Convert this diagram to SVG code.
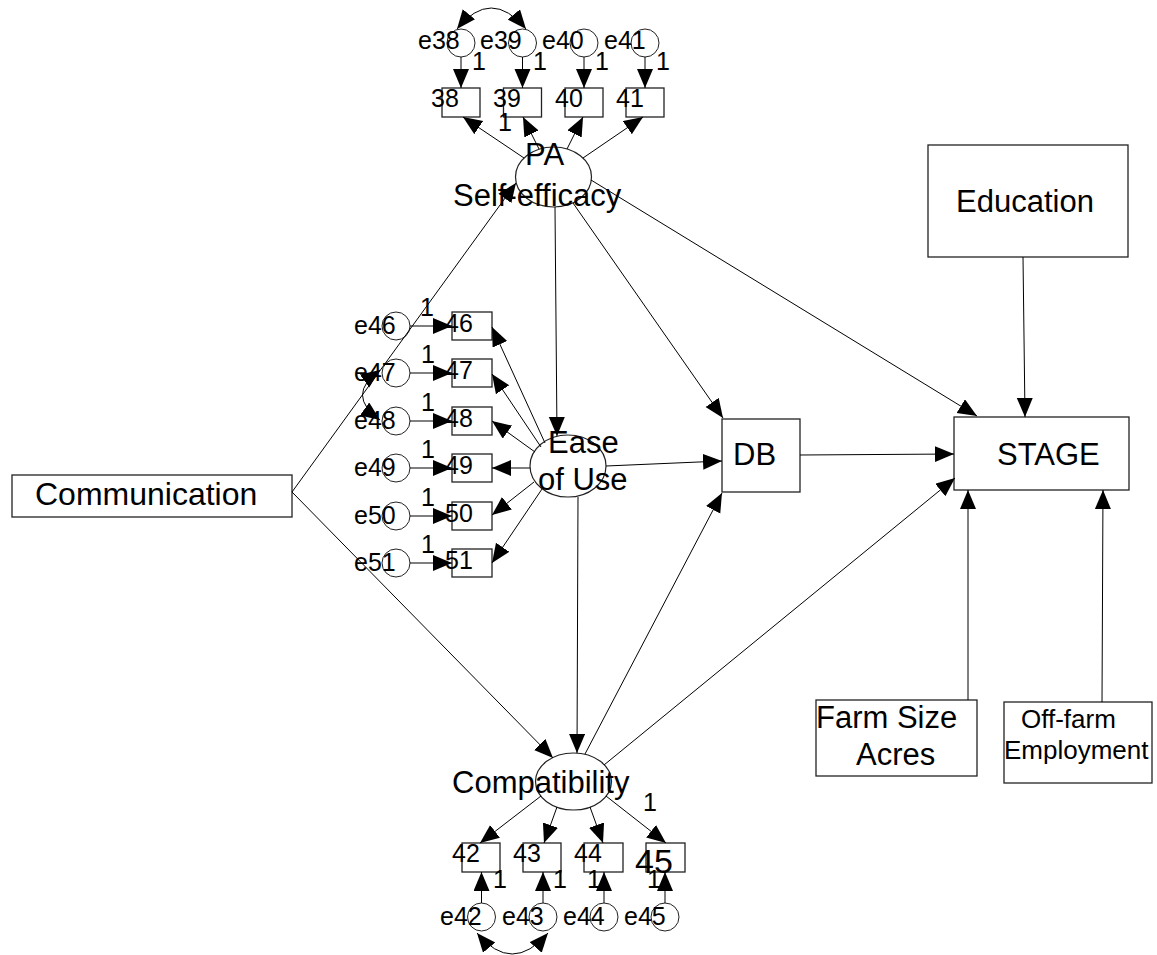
<svg xmlns="http://www.w3.org/2000/svg" width="1157" height="955" viewBox="0 0 1157 955">
  <style>
    .box { fill: none; stroke: #222; stroke-width: 1.3; }
    .lat { fill: none; stroke: #222; stroke-width: 1.2; }
    .err { fill: none; stroke: #222; stroke-width: 1; }
    .big { font-family: "Liberation Sans", Arial, sans-serif; font-size: 31px; fill: #000; }
    .mid { font-family: "Liberation Sans", Arial, sans-serif; font-size: 26px; fill: #000; }
    .sm { font-family: "Liberation Sans", Arial, sans-serif; font-size: 25px; fill: #000; }
    .edge { fill: none; stroke: #000; stroke-width: 1; marker-end: url(#arrow); }
    .cov { fill: none; stroke: #000; stroke-width: 1; marker-start: url(#arrow); marker-end: url(#arrow); }
  </style>
  <defs>
    <marker id="arrow" markerUnits="userSpaceOnUse" markerWidth="20" markerHeight="17" refX="19" refY="8" orient="auto-start-reverse">
      <path d="M0,0 L19,8 L0,16 z" fill="#000"/>
    </marker>
  </defs>
  <rect width="1157" height="955" fill="#fff"/>

  <!-- observed exogenous variables -->
  <g id="communication">
    <rect class="box" x="12" y="475" width="280" height="42"/>
    <text class="big" x="35" y="505" style="font-size:32px">Communication</text>
  </g>
  <g id="education">
    <rect class="box" x="928" y="145" width="200" height="112"/>
    <text class="big" x="956" y="212">Education</text>
  </g>
  <g id="farm-size">
    <rect class="box" x="816" y="700" width="161" height="76"/>
    <text class="big" x="816" y="728">Farm Size</text>
    <text class="big" x="856" y="765">Acres</text>
  </g>
  <g id="off-farm">
    <rect class="box" x="1004" y="702" width="148" height="81"/>
    <text class="mid" x="1021" y="728">Off-farm</text>
    <text class="mid" x="1004" y="759">Employment</text>
  </g>
  <g id="db">
    <rect class="box" x="722" y="419" width="78" height="73"/>
    <text class="big" x="733" y="465">DB</text>
  </g>
  <g id="stage">
    <rect class="box" x="954" y="417" width="175" height="73"/>
    <text class="big" x="997" y="465">STAGE</text>
  </g>

  <!-- latent constructs -->
  <g id="pa-self-efficacy">
    <ellipse class="lat" cx="553.5" cy="177" rx="38" ry="30"/>
    <text class="big" x="525" y="165">PA</text>
    <text class="big" x="453" y="206">Self-efficacy</text>
  </g>
  <g id="ease-of-use">
    <ellipse class="lat" cx="568" cy="466" rx="38" ry="31"/>
    <text class="big" x="548" y="453">Ease</text>
    <text class="big" x="538" y="490">of Use</text>
  </g>
  <g id="compatibility">
    <ellipse class="lat" cx="573.5" cy="781.5" rx="38" ry="28.5"/>
    <text class="big" x="452" y="793">Compatibility</text>
  </g>

  <!-- PA self-efficacy indicators -->
  <g id="item-38"><rect class="box" x="442" y="88" width="38" height="29"/><text class="sm" x="431" y="107">38</text></g>
  <g id="item-39"><rect class="box" x="503.5" y="88" width="38" height="29"/><text class="sm" x="493" y="107">39</text></g>
  <g id="item-40"><rect class="box" x="565" y="88" width="38" height="29"/><text class="sm" x="555" y="107">40</text></g>
  <g id="item-41"><rect class="box" x="626" y="88" width="38" height="29"/><text class="sm" x="616" y="107">41</text></g>
  <g id="e38"><circle class="err" cx="461" cy="43" r="14"/><text class="sm" x="418" y="49">e38</text></g>
  <g id="e39"><circle class="err" cx="522.5" cy="43" r="14"/><text class="sm" x="480" y="49">e39</text></g>
  <g id="e40"><circle class="err" cx="584" cy="43" r="14"/><text class="sm" x="542" y="49">e40</text></g>
  <g id="e41"><circle class="err" cx="645" cy="43" r="14"/><text class="sm" x="604" y="49">e41</text></g>

  <!-- ease of use indicators -->
  <g id="item-46"><rect class="box" x="452" y="312" width="40" height="28"/><text class="sm" x="445" y="332">46</text></g>
  <g id="item-47"><rect class="box" x="452" y="359" width="40" height="28"/><text class="sm" x="445" y="379">47</text></g>
  <g id="item-48"><rect class="box" x="452" y="407" width="40" height="28"/><text class="sm" x="445" y="427">48</text></g>
  <g id="item-49"><rect class="box" x="452" y="454" width="40" height="28"/><text class="sm" x="445" y="474">49</text></g>
  <g id="item-50"><rect class="box" x="452" y="502" width="40" height="28"/><text class="sm" x="445" y="522">50</text></g>
  <g id="item-51"><rect class="box" x="452" y="549" width="40" height="28"/><text class="sm" x="445" y="569">51</text></g>
  <g id="e46"><circle class="err" cx="396" cy="326" r="14"/><text class="sm" x="354" y="334">e46</text></g>
  <g id="e47"><circle class="err" cx="396" cy="373" r="14"/><text class="sm" x="354" y="381">e47</text></g>
  <g id="e48"><circle class="err" cx="396" cy="421" r="14"/><text class="sm" x="354" y="429">e48</text></g>
  <g id="e49"><circle class="err" cx="396" cy="468" r="14"/><text class="sm" x="354" y="476">e49</text></g>
  <g id="e50"><circle class="err" cx="396" cy="516" r="14"/><text class="sm" x="354" y="524">e50</text></g>
  <g id="e51"><circle class="err" cx="396" cy="563" r="14"/><text class="sm" x="354" y="571">e51</text></g>

  <!-- compatibility indicators -->
  <g id="item-42"><rect class="box" x="462" y="843" width="38" height="29"/><text class="sm" x="452" y="862">42</text></g>
  <g id="item-43"><rect class="box" x="523" y="843" width="38" height="29"/><text class="sm" x="513" y="862">43</text></g>
  <g id="item-44"><rect class="box" x="584" y="843" width="39" height="29"/><text class="sm" x="574" y="862">44</text></g>
  <g id="item-45"><rect class="box" x="646" y="843" width="39" height="29"/><text class="big" x="635" y="873" style="font-size:34px">45</text></g>
  <g id="e42"><circle class="err" cx="481.5" cy="917" r="14"/><text class="sm" x="440" y="925">e42</text></g>
  <g id="e43"><circle class="err" cx="543" cy="917" r="14"/><text class="sm" x="502" y="925">e43</text></g>
  <g id="e44"><circle class="err" cx="604" cy="917" r="14"/><text class="sm" x="563" y="925">e44</text></g>
  <g id="e45"><circle class="err" cx="665" cy="917" r="14"/><text class="sm" x="624" y="925">e45</text></g>

  <!-- paths, loadings and covariances -->
  <g id="connectors">
    <!-- structural paths -->
    <line class="edge" x1="292" y1="492" x2="516" y2="183"/>
    <line class="edge" x1="292" y1="492" x2="553" y2="758"/>
    <line class="edge" x1="555" y1="207" x2="557" y2="436"/>
    <line class="edge" x1="573" y1="203" x2="723" y2="418"/>
    <line class="edge" x1="591" y1="180" x2="977" y2="416"/>
    <line class="edge" x1="606" y1="466" x2="722" y2="461"/>
    <line class="edge" x1="578" y1="497" x2="577" y2="753"/>
    <line class="edge" x1="585" y1="754" x2="722" y2="493"/>
    <line class="edge" x1="604" y1="765" x2="955" y2="478"/>
    <line class="edge" x1="800" y1="455" x2="954" y2="454"/>
    <line class="edge" x1="1023" y1="257" x2="1025" y2="417"/>
    <line class="edge" x1="968" y1="700" x2="968" y2="490"/>
    <line class="edge" x1="1102" y1="702" x2="1103" y2="490"/>

    <!-- PA self-efficacy loadings -->
    <line class="edge" x1="524" y1="158" x2="463" y2="117"/>
    <line class="edge" x1="539" y1="149" x2="523" y2="117"/>
    <line class="edge" x1="567" y1="149" x2="583" y2="117"/>
    <line class="edge" x1="583" y1="158" x2="643" y2="117"/>
    <line class="edge" x1="461" y1="57" x2="461" y2="88"/>
    <line class="edge" x1="522.5" y1="57" x2="522.5" y2="88"/>
    <line class="edge" x1="584" y1="57" x2="584" y2="88"/>
    <line class="edge" x1="645" y1="57" x2="645" y2="88"/>
    <path class="cov" d="M457,29 Q491,-13 526,29"/>

    <!-- ease of use loadings -->
    <line class="edge" x1="545" y1="443" x2="492" y2="327"/>
    <line class="edge" x1="541" y1="447" x2="492" y2="374"/>
    <line class="edge" x1="535" y1="452" x2="492" y2="421"/>
    <line class="edge" x1="530" y1="468" x2="492" y2="468"/>
    <line class="edge" x1="534" y1="482" x2="492" y2="515"/>
    <line class="edge" x1="542" y1="489" x2="492" y2="563"/>
    <line class="edge" x1="410" y1="326" x2="452" y2="326"/>
    <line class="edge" x1="410" y1="373" x2="452" y2="373"/>
    <line class="edge" x1="410" y1="421" x2="452" y2="421"/>
    <line class="edge" x1="410" y1="468" x2="452" y2="468"/>
    <line class="edge" x1="410" y1="516" x2="452" y2="516"/>
    <line class="edge" x1="410" y1="563" x2="452" y2="563"/>
    <path class="cov" d="M380,370 Q345,395 380,420"/>

    <!-- compatibility loadings -->
    <line class="edge" x1="541" y1="796" x2="480" y2="843"/>
    <line class="edge" x1="557" y1="807" x2="544" y2="843"/>
    <line class="edge" x1="590" y1="807" x2="603" y2="843"/>
    <line class="edge" x1="606" y1="796" x2="666" y2="843"/>
    <line class="edge" x1="481.5" y1="903" x2="481.5" y2="872"/>
    <line class="edge" x1="543" y1="903" x2="543" y2="872"/>
    <line class="edge" x1="604" y1="903" x2="604" y2="872"/>
    <line class="edge" x1="665" y1="903" x2="665" y2="872"/>
    <path class="cov" d="M477,933 Q512,975 548,933"/>

    <!-- fixed loading labels -->
    <g class="sm">
      <text x="472" y="70">1</text>
      <text x="533" y="70">1</text>
      <text x="595" y="70">1</text>
      <text x="656" y="70">1</text>
      <text x="498" y="131">1</text>
      <text x="420" y="316">1</text>
      <text x="421" y="363">1</text>
      <text x="421" y="411">1</text>
      <text x="421" y="458">1</text>
      <text x="421" y="506">1</text>
      <text x="421" y="553">1</text>
      <text x="643" y="811">1</text>
      <text x="493" y="888">1</text>
      <text x="553" y="888">1</text>
      <text x="587" y="888">1</text>
      <text x="647" y="888">1</text>
    </g>
  </g>
</svg>
